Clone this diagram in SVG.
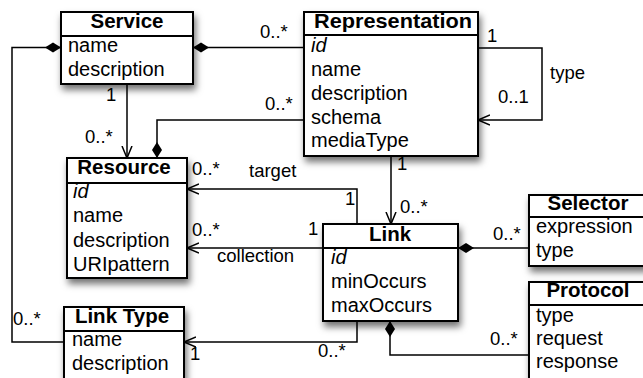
<svg xmlns="http://www.w3.org/2000/svg" width="643" height="378" viewBox="0 0 643 378">
<defs>
<filter id="sh" x="-20%" y="-20%" width="150%" height="160%">
<feDropShadow dx="2" dy="5" stdDeviation="3.5" flood-color="#000" flood-opacity="0.55"/>
</filter>
<marker id="arrow" markerUnits="userSpaceOnUse" markerWidth="14" markerHeight="12" refX="12" refY="6" orient="auto">
<path d="M0,1 L12,6 L0,11" fill="none" stroke="#000" stroke-width="1.5"/>
</marker>
<marker id="diamond" markerUnits="userSpaceOnUse" markerWidth="18" markerHeight="12" refX="0" refY="6" orient="auto">
<path d="M0,6 L8,1 L16,6 L8,11 Z" fill="#000"/>
</marker>
</defs>
<style>
.box{fill:#fff;stroke:#000;stroke-width:2}
.sep{stroke:#000;stroke-width:2}
.t{font-family:"Liberation Sans",Arial,sans-serif;font-size:20.5px;font-weight:bold;text-anchor:middle;fill:#000}
.a{font-family:"Liberation Sans",Arial,sans-serif;font-size:20px;fill:#000}
.i{font-style:italic}
.l{font-family:"Liberation Sans",Arial,sans-serif;font-size:18.5px;fill:#000}
.c{fill:none;stroke:#000;stroke-width:1.5}
.ar{marker-end:url(#arrow)}
.dm{marker-start:url(#diamond)}
</style>
<g id="connectors">
<path class="c dm" d="M61,47.5 L12,47.5 L12,342 L64,342"/>
<path class="c dm" d="M193,47.5 L304,47.5"/>
<path class="c ar" d="M127,84 L127,158"/>
<path class="c dm" d="M157,158 L157,120 L304,120"/>
<path class="c ar" d="M478,48 L542,48 L542,120 L478,120"/>
<path class="c ar" d="M391,156 L391,224"/>
<path class="c ar" d="M357,224 L357,189 L187,189"/>
<path class="c ar" d="M323,248 L187,248"/>
<path class="c dm" d="M458,248 L529,248"/>
<path class="c dm" d="M390,321 L390,355 L529,355"/>
<path class="c ar" d="M357,321 L357,342 L184,342"/>
<text class="l" x="260" y="38">0..*</text>
<text class="l" x="265" y="110">0..*</text>
<text class="l" x="106" y="101">1</text>
<text class="l" x="85" y="143">0..*</text>
<text class="l" x="487" y="42">1</text>
<text class="l" x="550" y="79">type</text>
<text class="l" x="498" y="103">0..1</text>
<text class="l" x="397" y="170">1</text>
<text class="l" x="400" y="213">0..*</text>
<text class="l" x="192" y="175">0..*</text>
<text class="l" x="249" y="177">target</text>
<text class="l" x="345" y="205">1</text>
<text class="l" x="192" y="236">0..*</text>
<text class="l" x="217" y="262">collection</text>
<text class="l" x="308" y="235">1</text>
<text class="l" x="493" y="240">0..*</text>
<text class="l" x="490" y="345">0..*</text>
<text class="l" x="318" y="357">0..*</text>
<text class="l" x="190" y="360">1</text>
<text class="l" x="13" y="325">0..*</text>
</g>
<g id="service">
<rect class="box" x="61" y="12" width="132" height="72" filter="url(#sh)"/>
<line class="sep" x1="61" y1="36" x2="193" y2="36"/>
<text class="t" x="127" y="28">Service</text>
<text class="a" x="68" y="52">name</text>
<text class="a" x="68" y="76">description</text>
</g>
<g id="representation">
<rect class="box" x="304" y="12" width="174" height="144" filter="url(#sh)"/>
<line class="sep" x1="304" y1="35" x2="478" y2="35"/>
<text class="t" x="393" y="28" textLength="158" lengthAdjust="spacingAndGlyphs">Representation</text>
<text class="a i" x="311" y="52">id</text>
<text class="a" x="311" y="76">name</text>
<text class="a" x="311" y="100">description</text>
<text class="a" x="311" y="124">schema</text>
<text class="a" x="311" y="147">mediaType</text>
</g>
<g id="resource">
<rect class="box" x="67" y="158" width="120" height="120" filter="url(#sh)"/>
<line class="sep" x1="67" y1="183" x2="187" y2="183"/>
<text class="t" x="124" y="174">Resource</text>
<text class="a i" x="73" y="198">id</text>
<text class="a" x="73" y="222">name</text>
<text class="a" x="73" y="247">description</text>
<text class="a" x="73" y="271">URIpattern</text>
</g>
<g id="link">
<rect class="box" x="323" y="224" width="135" height="97" filter="url(#sh)"/>
<line class="sep" x1="323" y1="248" x2="458" y2="248"/>
<text class="t" x="390" y="241">Link</text>
<text class="a i" x="331" y="264">id</text>
<text class="a" x="331" y="288">minOccurs</text>
<text class="a" x="331" y="312">maxOccurs</text>
</g>
<g id="selector">
<rect class="box" x="529" y="195" width="118" height="71" filter="url(#sh)"/>
<line class="sep" x1="529" y1="217" x2="647" y2="217"/>
<text class="t" x="588" y="210">Selector</text>
<text class="a" x="536" y="233">expression</text>
<text class="a" x="536" y="257">type</text>
</g>
<g id="protocol">
<rect class="box" x="529" y="282" width="118" height="110" filter="url(#sh)"/>
<line class="sep" x1="529" y1="305" x2="647" y2="305"/>
<text class="t" x="588" y="297">Protocol</text>
<text class="a" x="536" y="322">type</text>
<text class="a" x="536" y="345">request</text>
<text class="a" x="536" y="368">response</text>
</g>
<g id="linktype">
<rect class="box" x="64" y="307" width="120" height="85" filter="url(#sh)"/>
<line class="sep" x1="64" y1="331" x2="184" y2="331"/>
<text class="t" x="122" y="323">Link Type</text>
<text class="a" x="72" y="346">name</text>
<text class="a" x="72" y="370">description</text>
</g>
</svg>
